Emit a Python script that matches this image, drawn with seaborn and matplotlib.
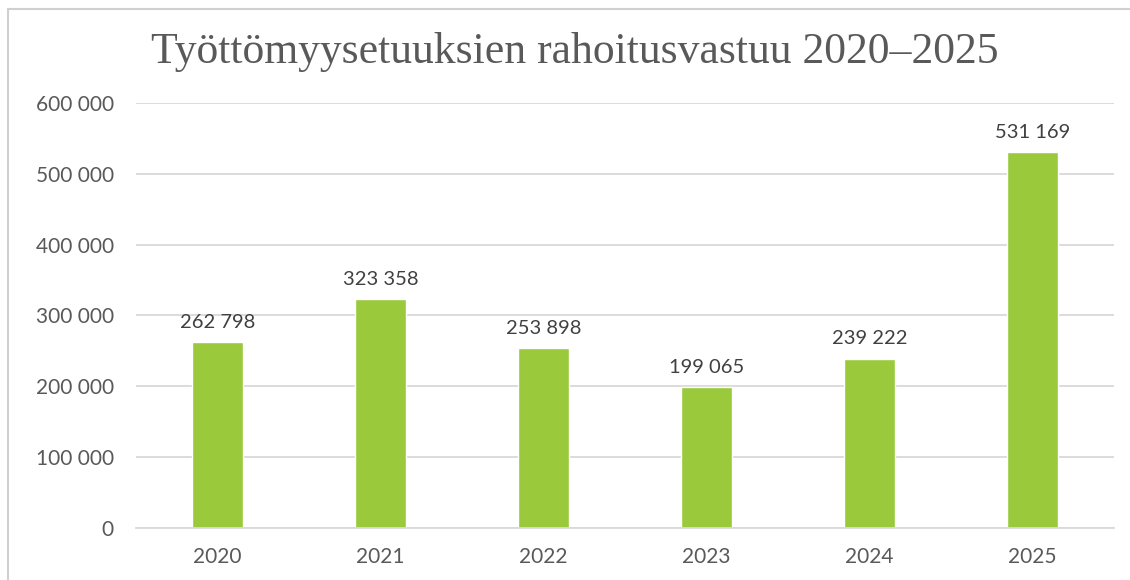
import pandas as pd
import matplotlib.pyplot as plt
import matplotlib.ticker as mticker
from matplotlib.lines import Line2D
import seaborn as sns

years = ["2020", "2021", "2022", "2023", "2024", "2025"]
values = [262798, 323358, 253898, 199065, 239222, 531169]
yticks = [0, 100000, 200000, 300000, 400000, 500000, 600000]

title = "Työttömyysetuuksien rahoitusvastuu 2020–2025"

def fmt(v):
    return f"{int(v):,}".replace(",", " ")

sns.set_theme(style="white")
plt.rcParams['font.family'] = ['Lato', 'DejaVu Sans']

df = pd.DataFrame({"year": years, "value": values})

fig = plt.figure(figsize=(11.3, 5.8), dpi=100)
ax = fig.add_axes([0.1204, 0.0897, 0.8655, 0.7327])

sns.barplot(data=df, x="year", y="value", color="#9ACA3C", width=0.31,
            saturation=1, ax=ax)

ax.set_ylim(0, 600000)
ax.set_yticks(yticks)
ax.yaxis.set_major_formatter(mticker.FuncFormatter(lambda v, p: fmt(v)))
ax.grid(axis="y", color="#D9D9D9", linewidth=1.3)
ax.set_axisbelow(True)
for s in ["top", "right", "left"]:
    ax.spines[s].set_visible(False)
ax.spines["bottom"].set_color("#D9D9D9")
ax.spines["bottom"].set_linewidth(1.3)
ax.set_xlabel("")
ax.set_ylabel("")
ax.tick_params(axis="both", length=0, labelsize=15, labelcolor="#595959")
ax.tick_params(axis="y", pad=16)
ax.tick_params(axis="x", pad=14)

for i, v in enumerate(values):
    ax.annotate(fmt(v), (i, v), xytext=(0, 8), textcoords="offset points",
                ha="center", va="bottom", fontsize=14.5, color="#404040")

fig.text(0.509, 0.91, title, ha="center", va="center", fontsize=31.5,
         color="#595959", family=["Liberation Serif", "DejaVu Serif"])

# chart frame (left and top edges)
fig.add_artist(Line2D([8 / 1130, 8 / 1130], [0, 1 - 9 / 580],
                      transform=fig.transFigure, color="#D0D0D0", linewidth=1.5))
fig.add_artist(Line2D([8 / 1130, 1], [1 - 9 / 580, 1 - 9 / 580],
                      transform=fig.transFigure, color="#D0D0D0", linewidth=1.5))

fig.savefig("out.png", dpi=100)
